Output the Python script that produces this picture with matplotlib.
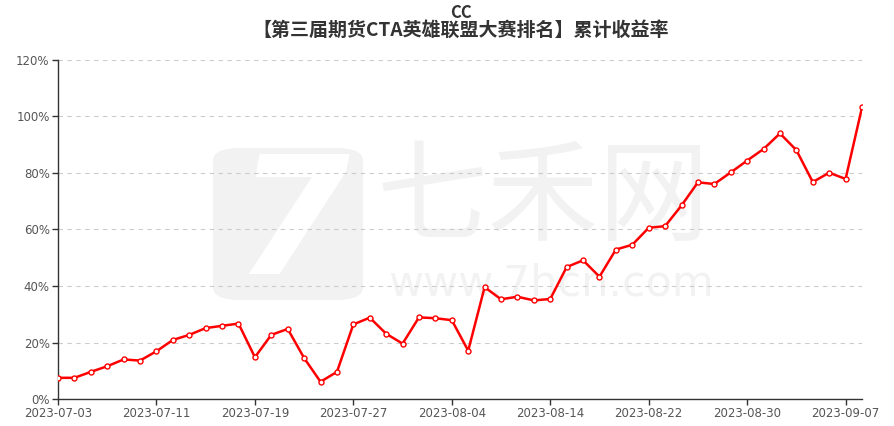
import matplotlib
matplotlib.use("Agg")
import matplotlib.pyplot as plt
import numpy as np
import pandas as pd
from matplotlib.patches import FancyBboxPatch

plt.rcParams['font.family'] = ['Noto Sans CJK SC', 'DejaVu Sans']

title = "CC"
subtitle = "【第三届期货CTA英雄联盟大赛排名】累计收益率"

dates = pd.bdate_range("2023-07-03", "2023-09-08").strftime("%Y-%m-%d").tolist()
returns = [7.5, 7.5, 9.6, 11.6, 14.0, 13.6, 16.9, 20.9, 22.7, 25.1,
           25.9, 26.7, 14.8, 22.7, 24.8, 14.5, 6.1, 9.6, 26.4, 28.8,
           23.1, 19.6, 28.9, 28.6, 27.9, 17.1, 39.6, 35.3, 36.2, 34.9,
           35.4, 46.7, 49.1, 43.3, 52.9, 54.6, 60.6, 61.2, 68.5, 76.7,
           76.1, 80.2, 84.4, 88.5, 94.0, 88.1, 76.8, 80.1, 77.9, 103.2]
y_ticks = [0, 20, 40, 60, 80, 100, 120]

W, H = 894, 426
fig = plt.figure(figsize=(W / 100, H / 100), dpi=100)
ax = fig.add_axes([58/W, 27/H, 804/W, 339/H])
ax.set_zorder(2)
ax.patch.set_alpha(0)

x = np.arange(len(dates))

# watermark (logo + site name), drawn beneath the axes
wm = "#f2f2f2"
logo = FancyBboxPatch((213/W, (H - 300)/H), 150/W, 152/H,
                      boxstyle="round,pad=0,rounding_size=0.03",
                      transform=fig.transFigure, facecolor=wm, edgecolor="none",
                      zorder=0)
fig.patches.append(logo)
fig.text(292/W, (H - 228)/H, "7", fontsize=118, fontweight="bold",
         family="DejaVu Sans", color="white", ha="center", va="center",
         style="italic", zorder=0.5)
fig.text(543/W, (H - 200)/H, "七禾网", fontsize=80, color=wm,
         ha="center", va="center", zorder=0.5)
fig.text(551/W, (H - 284)/H, "www.7hcn.com", fontsize=31, color=wm,
         family="DejaVu Sans", ha="center", va="center", zorder=0.5)

ax.plot(x, returns, color="#ff0000", linewidth=1.8, marker="o", markersize=3.6,
        markerfacecolor="white", markeredgecolor="#ff0000", markeredgewidth=1.0,
        zorder=3)

ax.set_xlim(0, len(dates) - 1)
ax.set_ylim(0, 120)
ax.set_yticks(y_ticks)
ax.set_yticklabels([f"{v}%" for v in y_ticks])
ax.set_xticks(x[::6])
ax.set_xticklabels(dates[::6])
for lab in ax.get_xticklabels() + ax.get_yticklabels():
    lab.set_family("DejaVu Sans")

ax.grid(axis="y", linestyle=(0, (4, 4)), color="#cccccc", linewidth=0.8)
ax.set_axisbelow(True)
for s in ["top", "right"]:
    ax.spines[s].set_visible(False)
for s in ["left", "bottom"]:
    ax.spines[s].set_color("#333333")
    ax.spines[s].set_linewidth(1.0)
ax.tick_params(axis="both", colors="#333333", labelcolor="#555555", labelsize=8.5,
               length=4, width=1.0)
ax.tick_params(axis="x", pad=2)
ax.tick_params(axis="y", pad=2)

fig.text(461/W, 1 - 12.5/H, title, ha="center", va="center", fontsize=12,
         fontweight="bold", color="#333333")
fig.text(461/W, 1 - 30/H, subtitle, ha="center", va="center", fontsize=13.7,
         fontweight="bold", color="#333333")

fig.savefig("out.png", dpi=100)
